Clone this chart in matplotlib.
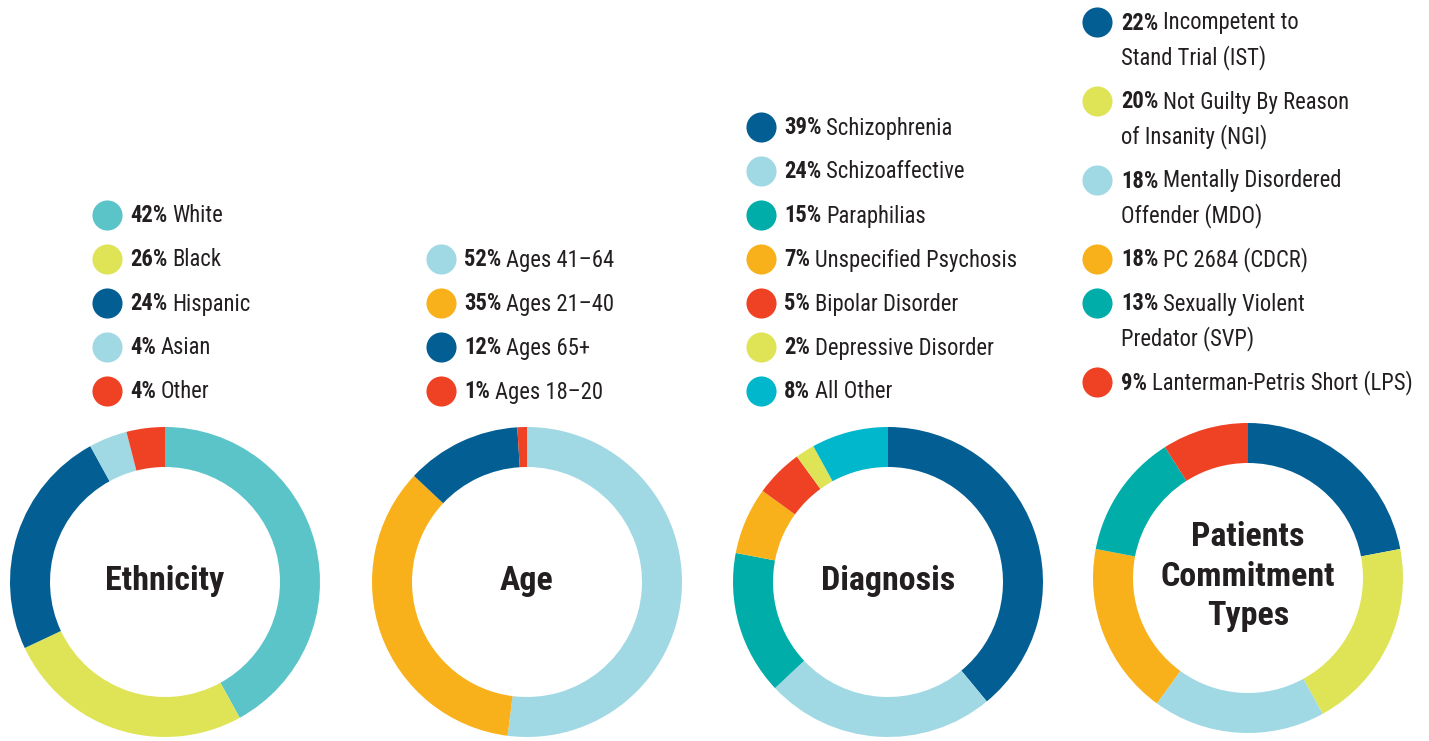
import matplotlib
matplotlib.use("Agg")
import matplotlib.pyplot as plt

# colours used in the report
TEAL = "#5BC4C9"
LIME = "#DFE456"
NAVY = "#035F93"
SKY = "#A0D9E4"
RED = "#EF4123"
ORANGE = "#F8B11B"
GREEN = "#00ADA8"
CYAN = "#00B7CC"

eth_titles = "Ethnicity"
eth_labels = ["White", "Black", "Hispanic", "Asian", "Other"]
eth_values = [42, 26, 24, 4, 4]
eth_colors = [TEAL, LIME, NAVY, SKY, RED]

age_titles = "Age"
age_labels = ["Ages 41\u201364", "Ages 21\u201340", "Ages 65+", "Ages 18\u201320"]
age_values = [52, 35, 12, 1]
age_colors = [SKY, ORANGE, NAVY, RED]

diag_titles = "Diagnosis"
diag_labels = ["Schizophrenia", "Schizoaffective", "Paraphilias", "Unspecified Psychosis",
               "Bipolar Disorder", "Depressive Disorder", "All Other"]
diag_values = [39, 24, 15, 7, 5, 2, 8]
diag_colors = [NAVY, SKY, GREEN, ORANGE, RED, LIME, CYAN]

com_titles = "Patients\nCommitment\nTypes"
com_labels = ["Incompetent to\nStand Trial (IST)", "Not Guilty By Reason\nof Insanity (NGI)",
              "Mentally Disordered\nOffender (MDO)", "PC 2684 (CDCR)",
              "Sexually Violent\nPredator (SVP)", "Lanterman-Petris Short (LPS)"]
com_values = [22, 20, 18, 18, 13, 9]
com_colors = [NAVY, LIME, SKY, ORANGE, GREEN, RED]

plt.rcParams['font.family'] = ['Roboto Condensed', 'DejaVu Sans']
plt.rcParams['font.stretch'] = 'condensed'
TXT = "#231F20"

W, H = 1429, 741
fig = plt.figure(figsize=(W / 100, H / 100), dpi=100)
ax = fig.add_axes([0, 0, 1, 1])

charts = [
    (eth_titles, eth_labels, eth_values, eth_colors, (165, 582), (107, 130, 215)),
    (age_titles, age_labels, age_values, age_colors, (527, 582), (441, 464, 259)),
    (diag_titles, diag_labels, diag_values, diag_colors, (888, 582), (761, 784, 127)),
    (com_titles, com_labels, com_values, com_colors, (1248, 578), (1097, 1121, 22)),
]

for title, labels, values, colors, (cx, cy), (mx, tx, y0) in charts:
    ax.pie(values, colors=colors, center=(cx, H - cy), radius=155,
           startangle=90, counterclock=False, frame=True,
           wedgeprops=dict(width=40, linewidth=0))
    ax.text(cx, H - cy + 1, title, ha='center', va='center', fontsize=24.5,
            fontweight='bold', color=TXT, linespacing=1.3)

    y = y0
    for lab, val, col in zip(labels, values, colors):
        lines = lab.split("\n")
        ax.scatter([mx], [H - y], s=470, color=col, linewidths=0, zorder=3)
        yb = H - y - 7.5
        b = ax.text(tx, yb, f"{val}%", fontsize=16.3, fontweight='bold',
                    color=TXT, va='baseline', ha='left')
        ax.annotate(lines[0], xy=(1, yb), xycoords=(b, 'data'),
                    xytext=(3.5, 0), textcoords='offset points',
                    fontsize=16.3, color=TXT, va='baseline', ha='left')
        for k, extra in enumerate(lines[1:], start=1):
            ax.text(tx, yb - 35 * k, extra, fontsize=16.3, color=TXT,
                    va='baseline', ha='left')
        y += 44 + 35 * (len(lines) - 1)

ax.set_xlim(0, W)
ax.set_ylim(0, H)
ax.set_aspect('equal')
ax.axis('off')

fig.savefig("out.png", dpi=100)
